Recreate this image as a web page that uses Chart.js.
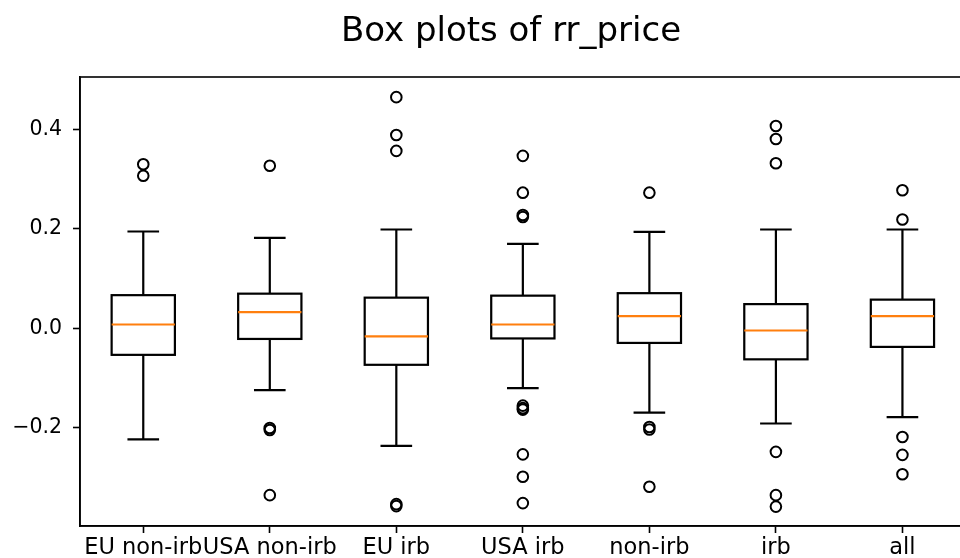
<!DOCTYPE html>
<html>
<head>
<meta charset="utf-8">
<title>Box plots of rr_price</title>
<script src="https://cdn.jsdelivr.net/npm/chart.js@4.4.1/dist/chart.umd.min.js"></script>
<style>
    html, body {
        margin: 0;
        padding: 0;
        background: #ffffff;
        overflow: hidden;
    }
    #wrap {
        position: relative;
        width: 973px;
        height: 558px;
    }
</style>
</head>
<body>
<div id="wrap"><canvas id="boxChart"></canvas></div>
<script>
// Chart data
const titleText = 'Box plots of rr_price';
const categories = ['EU non-irb', 'USA non-irb', 'EU irb', 'USA irb', 'non-irb', 'irb', 'all'];
const whiskerLow = [-0.223, -0.124, -0.236, -0.120, -0.169, -0.191, -0.178];
const q1 = [-0.053, -0.021, -0.073, -0.020, -0.029, -0.062, -0.037];
const median = [0.008, 0.033, -0.016, 0.008, 0.025, -0.004, 0.025];
const q3 = [0.067, 0.070, 0.062, 0.066, 0.071, 0.049, 0.058];
const whiskerHigh = [0.195, 0.182, 0.199, 0.170, 0.194, 0.199, 0.199];
const outliers = [
    [0.330, 0.307],
    [0.327, -0.200, -0.204, -0.335],
    [0.465, 0.389, 0.357, -0.353, -0.357],
    [0.347, 0.273, 0.228, 0.224, -0.155, -0.160, -0.163, -0.253, -0.298, -0.351],
    [0.273, -0.198, -0.203, -0.318],
    [0.407, 0.381, 0.332, -0.248, -0.335, -0.358],
    [0.278, 0.219, -0.218, -0.254, -0.293]
];
const yTicks = [-0.2, 0.0, 0.2, 0.4];
const yMin = -0.397;
const yMax = 0.5055;

// Styling
const fontFamily = "'DejaVu Sans', sans-serif";
const boxColor = '#000000';
const medianColor = '#ff7f0e';

// Flatten outliers into scatter points at each category position
const outlierPoints = [];
outliers.forEach((list, i) => {
    list.forEach(v => outlierPoints.push({ x: i + 1, y: v }));
});

// Plugin: draws boxes, whiskers, caps and medians through the chart scales
const boxPlotPlugin = {
    id: 'boxPlot',
    beforeDatasetsDraw(chart) {
        const ctx = chart.ctx;
        const xs = chart.scales.x;
        const ys = chart.scales.y;
        ctx.save();
        ctx.lineWidth = 2.2;
        ctx.lineCap = 'butt';
        for (let i = 0; i < categories.length; i++) {
            const pos = i + 1;
            const cx = xs.getPixelForValue(pos);
            const bl = xs.getPixelForValue(pos - 0.25);
            const br = xs.getPixelForValue(pos + 0.25);
            const cl = xs.getPixelForValue(pos - 0.125);
            const cr = xs.getPixelForValue(pos + 0.125);
            const yLo = ys.getPixelForValue(whiskerLow[i]);
            const yQ1 = ys.getPixelForValue(q1[i]);
            const yMed = ys.getPixelForValue(median[i]);
            const yQ3 = ys.getPixelForValue(q3[i]);
            const yHi = ys.getPixelForValue(whiskerHigh[i]);

            ctx.strokeStyle = boxColor;
            ctx.beginPath();
            // whiskers
            ctx.moveTo(cx, yQ3); ctx.lineTo(cx, yHi);
            ctx.moveTo(cx, yQ1); ctx.lineTo(cx, yLo);
            // caps
            ctx.moveTo(cl, yHi); ctx.lineTo(cr, yHi);
            ctx.moveTo(cl, yLo); ctx.lineTo(cr, yLo);
            ctx.stroke();
            // box
            ctx.strokeRect(bl, yQ3, br - bl, yQ1 - yQ3);
            // median
            ctx.strokeStyle = medianColor;
            ctx.beginPath();
            ctx.moveTo(bl, yMed); ctx.lineTo(br, yMed);
            ctx.stroke();
        }
        ctx.restore();
    },
    afterDraw(chart) {
        const ctx = chart.ctx;
        const area = chart.chartArea;
        ctx.save();
        // full frame around the axes
        ctx.strokeStyle = '#000000';
        ctx.lineWidth = 1.6;
        ctx.strokeRect(area.left, area.top, area.right - area.left, area.bottom - area.top);
        // title
        ctx.fillStyle = '#000000';
        ctx.font = '34px ' + fontFamily;
        ctx.textAlign = 'center';
        ctx.textBaseline = 'alphabetic';
        ctx.fillText(titleText, 511, 41);
        ctx.restore();
    }
};

const ctx = document.getElementById('boxChart').getContext('2d');
const chart = new Chart(ctx, {
    type: 'scatter',
    data: {
        datasets: [{
            label: 'outliers',
            data: outlierPoints,
            pointStyle: 'circle',
            pointRadius: 5.3,
            pointHoverRadius: 5.3,
            borderColor: '#000000',
            backgroundColor: 'rgba(0,0,0,0)',
            borderWidth: 2
        }]
    },
    options: {
        responsive: true,
        maintainAspectRatio: false,
        animation: false,
        layout: {
            padding: { top: 77, left: 0, right: 0, bottom: 0 }
        },
        plugins: {
            legend: { display: false },
            tooltip: { enabled: false },
            title: { display: false }
        },
        scales: {
            x: {
                type: 'linear',
                min: 0.5,
                max: 7.5,
                afterBuildTicks: scale => {
                    scale.ticks = categories.map((c, i) => ({ value: i + 1 }));
                },
                afterFit: scale => {
                    scale.height = 32;
                },
                ticks: {
                    autoSkip: false,
                    maxRotation: 0,
                    padding: 2,
                    color: '#000000',
                    font: { family: fontFamily, size: 22.5 },
                    callback: value => categories[value - 1]
                },
                grid: {
                    drawOnChartArea: false,
                    drawTicks: true,
                    tickLength: 7,
                    tickWidth: 1.6,
                    tickColor: '#000000'
                },
                border: { display: true, color: '#000000', width: 1.6 }
            },
            y: {
                type: 'linear',
                min: yMin,
                max: yMax,
                afterBuildTicks: scale => {
                    scale.ticks = yTicks.map(v => ({ value: v }));
                },
                afterFit: scale => {
                    scale.width = 80;
                },
                ticks: {
                    padding: 11,
                    color: '#000000',
                    font: { family: fontFamily, size: 20.5 },
                    callback: value => value.toFixed(1).replace('-', '\u2212')
                },
                grid: {
                    drawOnChartArea: false,
                    drawTicks: true,
                    tickLength: 7,
                    tickWidth: 1.6,
                    tickColor: '#000000'
                },
                border: { display: true, color: '#000000', width: 1.6 }
            }
        }
    },
    plugins: [boxPlotPlugin]
});
</script>
</body>
</html>
